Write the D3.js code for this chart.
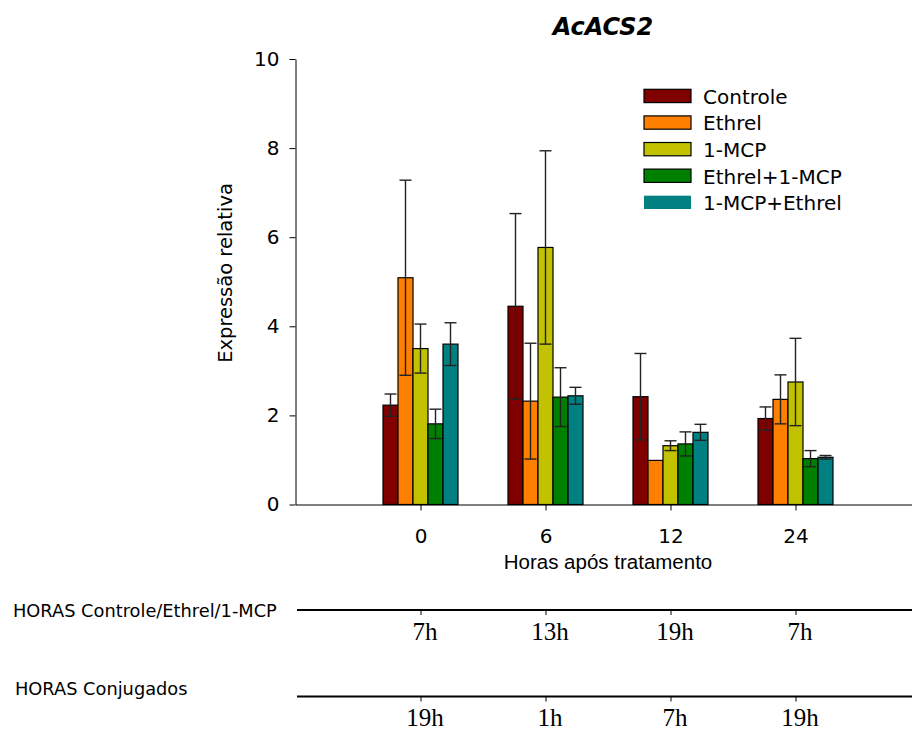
<!DOCTYPE html>
<html>
<head>
<meta charset="utf-8">
<script src="https://cdn.jsdelivr.net/npm/d3@7"></script>
<style>
  body { margin: 0; background: #fff; }
  svg { display: block; }
</style>
</head>
<body>
<div id="chart"></div>
<script>
// categories (horas após tratamento)
const hours = ['0', '6', '12', '24'];
const series = ['Controle', 'Ethrel', '1-MCP', 'Ethrel+1-MCP', '1-MCP+Ethrel'];
const colors = ['#800000', '#ff8000', '#c2c200', '#008000', '#008080'];

// expressão relativa, one array per tratamento (0, 6, 12, 24 h)
const controle = [2.23, 4.45, 2.42, 1.93];
const ethrel = [5.09, 2.32, 0.99, 2.36];
const mcp = [3.50, 5.77, 1.32, 2.75];
const ethrelMcp = [1.81, 2.41, 1.36, 1.03];
const mcpEthrel = [3.60, 2.44, 1.62, 1.06];

// desvio (error bars)
const controleErr = [0.25, 2.08, 0.97, 0.26];
const ethrelErr = [2.19, 1.30, 0, 0.55];
const mcpErr = [0.55, 2.17, 0.11, 0.98];
const ethrelMcpErr = [0.33, 0.66, 0.27, 0.18];
const mcpEthrelErr = [0.48, 0.19, 0.18, 0.04];

const yTicks = [0, 2, 4, 6, 8, 10];
const horasControle = ['7h', '13h', '19h', '7h'];
const horasConjugados = ['19h', '1h', '7h', '19h'];

const values = [controle, ethrel, mcp, ethrelMcp, mcpEthrel];
const errors = [controleErr, ethrelErr, mcpErr, ethrelMcpErr, mcpEthrelErr];

const rows = [];
series.forEach((s, i) => {
  hours.forEach((h, j) => {
    rows.push({ serie: s, hour: h, value: values[i][j], err: errors[i][j], color: colors[i] });
  });
});

const width = 912, height = 731;
const svg = d3.select('#chart').append('svg')
  .attr('width', width)
  .attr('height', height);

const font = 'DejaVu Sans, Verdana, sans-serif';

// scales
const x = d3.scalePoint()
  .domain(hours)
  .range([295.5, 920.5])
  .padding(1);

const xInner = d3.scaleBand()
  .domain(series)
  .range([-37.5, 37.5]);

const y = d3.scaleLinear()
  .domain([0, 10])
  .range([504.5, 59]);

// axes
const yAxis = svg.append('g')
  .attr('transform', 'translate(295.5,0)')
  .call(d3.axisLeft(y).tickValues(yTicks).tickSize(6).tickSizeOuter(0).tickPadding(10));
yAxis.selectAll('text').style('font-family', font).style('font-size', '20px').attr('fill', '#000');
yAxis.selectAll('line, path').attr('stroke', '#000');

const xAxis = svg.append('g')
  .attr('transform', 'translate(0,504.5)')
  .call(d3.axisBottom(x).tickSize(6).tickSizeOuter(0).tickPadding(18));
xAxis.selectAll('text').style('font-family', font).style('font-size', '20px').attr('fill', '#000');
xAxis.selectAll('line, path').attr('stroke', '#000');

// bars
svg.append('g').selectAll('rect')
  .data(rows)
  .enter().append('rect')
  .attr('x', d => x(d.hour) + xInner(d.serie))
  .attr('y', d => y(d.value))
  .attr('width', xInner.bandwidth())
  .attr('height', d => y(0) - y(d.value))
  .attr('fill', d => d.color)
  .attr('stroke', '#000')
  .attr('stroke-width', 1.2);

// error bars
const capHalf = 6;
const eb = svg.append('g')
  .attr('stroke', '#222')
  .attr('stroke-width', 1.4)
  .selectAll('g')
  .data(rows.filter(d => d.err > 0))
  .enter().append('g');

const cx = d => x(d.hour) + xInner(d.serie) + xInner.bandwidth() / 2;
eb.append('line')
  .attr('x1', cx).attr('x2', cx)
  .attr('y1', d => y(d.value + d.err))
  .attr('y2', d => y(d.value - d.err));
eb.append('line')
  .attr('x1', d => cx(d) - capHalf).attr('x2', d => cx(d) + capHalf)
  .attr('y1', d => y(d.value + d.err)).attr('y2', d => y(d.value + d.err));
eb.append('line')
  .attr('x1', d => cx(d) - capHalf).attr('x2', d => cx(d) + capHalf)
  .attr('y1', d => y(d.value - d.err)).attr('y2', d => y(d.value - d.err));

// title
svg.append('text')
  .attr('x', 603)
  .attr('y', 35)
  .attr('text-anchor', 'middle')
  .style('font-family', font)
  .style('font-size', '24px')
  .style('font-weight', 'bold')
  .style('font-style', 'italic')
  .text('AcACS2');

// axis labels
svg.append('text')
  .attr('transform', 'translate(232,273) rotate(-90)')
  .attr('text-anchor', 'middle')
  .style('font-family', font)
  .style('font-size', '19.5px')
  .text('Expressão relativa');

svg.append('text')
  .attr('x', 608)
  .attr('y', 569)
  .attr('text-anchor', 'middle')
  .style('font-family', 'Liberation Sans, Arial, sans-serif')
  .style('font-size', '20.5px')
  .text('Horas após tratamento');

// legend
const legend = svg.append('g').selectAll('g')
  .data(series)
  .enter().append('g')
  .attr('transform', (d, i) => `translate(644,${89.3 + i * 26.6})`);

legend.append('rect')
  .attr('width', 47)
  .attr('height', 13.3)
  .attr('fill', (d, i) => colors[i])
  .attr('stroke', (d, i) => i === 4 ? 'none' : '#000')
  .attr('stroke-width', 1.2);

legend.append('text')
  .attr('x', 59)
  .attr('y', 14.5)
  .style('font-family', font)
  .style('font-size', '20px')
  .text(d => d);

// hour rows below the chart
function hourRow(yPos, labels, title, titleX, titleY) {
  const g = svg.append('g')
    .attr('transform', `translate(0,${yPos})`)
    .call(d3.axisBottom(x).tickSize(5).tickSizeOuter(0).tickPadding(7)
      .tickFormat((d, i) => labels[i]));
  g.select('.domain').attr('stroke', '#000').attr('stroke-width', 2)
    .attr('d', `M297,0H912`);
  g.selectAll('line').attr('stroke', '#000');
  g.selectAll('text')
    .attr('dx', 4)
    .attr('fill', '#000')
    .style('font-family', 'Liberation Serif, Times New Roman, serif')
    .style('font-size', '25px');

  svg.append('text')
    .attr('x', titleX)
    .attr('y', titleY)
    .style('font-family', font)
    .style('font-size', '17.8px')
    .text(title);
}

hourRow(610, horasControle, 'HORAS Controle/Ethrel/1-MCP', 13, 617);
hourRow(696.5, horasConjugados, 'HORAS Conjugados', 15, 695);
</script>
</body>
</html>
